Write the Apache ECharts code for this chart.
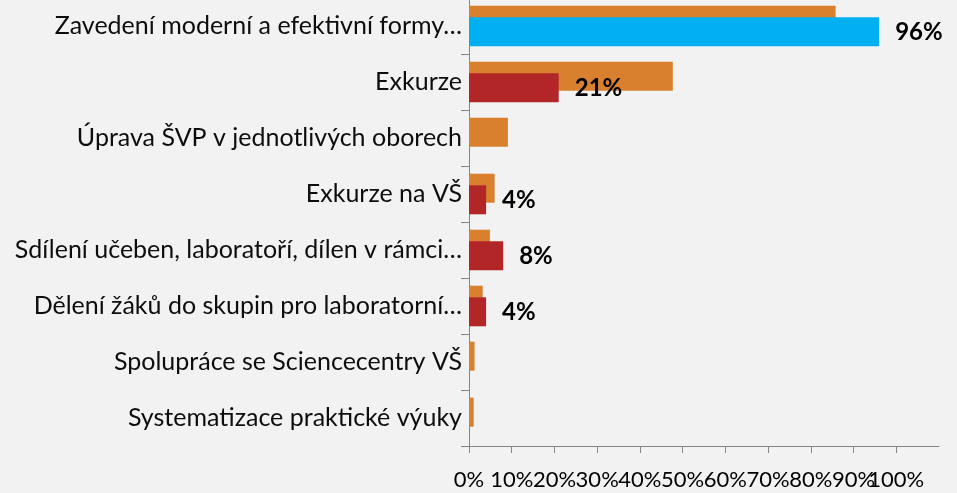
<!DOCTYPE html>
<html>
<head>
<meta charset="utf-8">
<script src="https://cdn.jsdelivr.net/npm/echarts@6/dist/echarts.min.js"></script>
<style>
  html, body { margin: 0; padding: 0; background: #f2f2f2; }
  #chart { width: 957px; height: 493px; }
</style>
</head>
<body>
<div id="chart"></div>
<script>
const categories = [
  'Zavedení moderní a efektivní formy…',
  'Exkurze',
  'Úprava ŠVP v jednotlivých oborech',
  'Exkurze na VŠ',
  'Sdílení učeben, laboratoří, dílen v rámci…',
  'Dělení žáků do skupin pro laboratorní…',
  'Spolupráce se Sciencecentry VŠ',
  'Systematizace praktické výuky'
]
const orangeValues = [85.8, 47.7, 9.1, 6.0, 4.9, 3.2, 1.3, 1.1]
const redValues = [96, 21, 0, 4, 8, 4, 0, 0]
// axis runs to 110 %, the last label is not printed
const xTicks = [0, 10, 20, 30, 40, 50, 60, 70, 80, 90, 100, 110]

const chart = echarts.init(document.getElementById('chart'))

const font = 'Lato'

const option = {
  backgroundColor: '#f2f2f2',
  animation: false,
  grid: {
    left: 469,
    right: 18,
    top: -2,
    bottom: 47,
    containLabel: false,
    outerBoundsMode: 'none'
  },
  xAxis: {
    type: 'value',
    min: xTicks[0],
    max: xTicks[xTicks.length - 1],
    interval: 10,
    splitLine: { show: false },
    axisLine: { show: true, lineStyle: { color: '#868686', width: 1 } },
    axisTick: { show: true, length: 7, lineStyle: { color: '#868686' } },
    axisLabel: {
      formatter: v => v === 110 ? '' : v + '%',
      color: '#000',
      fontFamily: font,
      fontSize: 22,
      margin: 23,
      showMinLabel: true,
      showMaxLabel: false,
      hideOverlap: false
    }
  },
  yAxis: {
    type: 'category',
    inverse: true,
    data: categories,
    axisLine: { show: true, lineStyle: { color: '#868686', width: 1 } },
    axisTick: { show: true, length: 8, inside: false, lineStyle: { color: '#868686' } },
    axisLabel: {
      color: '#0d0d0d',
      fontFamily: font,
      fontSize: 25,
      margin: 7
    }
  },
  series: [
    {
      name: 'A',
      type: 'bar',
      data: orangeValues,
      barWidth: 29,
      barGap: '-60%',
      itemStyle: { color: '#d9802f' }
    },
    {
      name: 'B',
      type: 'bar',
      data: redValues.map((v, i) => i === 0 ? { value: v, itemStyle: { color: '#00b0f0' } } : v),
      barWidth: 29,
      barGap: '-60%',
      itemStyle: { color: '#b22628' },
      label: {
        show: true,
        position: 'right',
        distance: 16,
        color: '#000',
        fontFamily: font,
        fontWeight: 'bold',
        fontSize: 24,
        formatter: p => p.value ? p.value + '%' : ''
      }
    }
  ]
}

chart.setOption(option)
</script>
</body>
</html>
